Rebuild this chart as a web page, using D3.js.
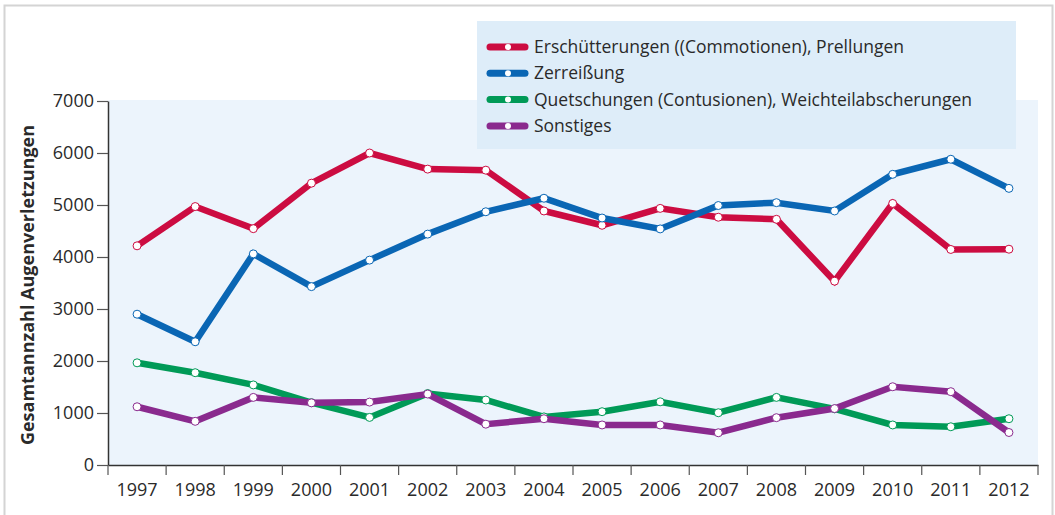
<!DOCTYPE html>
<html>
<head>
<meta charset="utf-8">
<script src="https://cdn.jsdelivr.net/npm/d3@7"></script>
<style>
  body { margin: 0; background: #fff; }
  svg { display: block; font-family: "Open Sans", "DejaVu Sans", sans-serif; }
</style>
</head>
<body>
<div class="chart"></div>
<script>
// --- data
var years = ['1997','1998','1999','2000','2001','2002','2003','2004',
             '2005','2006','2007','2008','2009','2010','2011','2012'];
var yTicks = [0, 1000, 2000, 3000, 4000, 5000, 6000, 7000];

var seriesNames = [
  'Erschütterungen ((Commotionen), Prellungen',
  'Zerreißung',
  'Quetschungen (Contusionen), Weichteilabscherungen',
  'Sonstiges'
];
var seriesColors = ['#cc0c41', '#0a66b4', '#009a57', '#8a2a8e'];

var erschuetterungen = [4215, 4970, 4545, 5420, 6000, 5690, 5670, 4885, 4610, 4935, 4765, 4725, 3535, 5030, 4145, 4150];
var zerreissung      = [2900, 2370, 4060, 3430, 3940, 4440, 4870, 5130, 4750, 4540, 4990, 5045, 4885, 5590, 5880, 5320];
var quetschungen     = [1965, 1775, 1540, 1200, 915, 1375, 1250, 925, 1025, 1215, 1005, 1300, 1080, 770, 735, 890];
var sonstiges        = [1120, 840, 1300, 1195, 1210, 1365, 785, 890, 770, 770, 620, 910, 1085, 1505, 1410, 625];

var allSeries = [erschuetterungen, zerreissung, quetschungen, sonstiges];

// --- canvas
var W = 1055, H = 515;
var svg = d3.select('.chart').append('svg')
  .attr('width', W)
  .attr('height', H);

// outer frame
svg.append('path')
  .attr('d', 'M4.5,515 L4.5,5.5 L1052.5,5.5 L1052.5,515')
  .attr('fill', 'none')
  .attr('stroke', '#d4d4d4')
  .attr('stroke-width', 2);

var plotLeft = 108, plotRight = 1038, plotTop = 101, plotBottom = 465;

var x = d3.scaleBand().domain(years).range([plotLeft, plotRight]);
var y = d3.scaleLinear().domain([0, 7000]).range([plotBottom, plotTop]);

// plot background
svg.append('rect')
  .attr('x', plotLeft).attr('y', plotTop - 1)
  .attr('width', plotRight - plotLeft).attr('height', plotBottom - plotTop + 1)
  .attr('fill', '#ecf4fc');

// legend box
svg.append('rect')
  .attr('x', 477).attr('y', 21)
  .attr('width', 539).attr('height', 128)
  .attr('fill', '#deedf9');

// y axis
var yAxis = svg.append('g')
  .attr('transform', 'translate(' + plotLeft + ',0)')
  .call(d3.axisLeft(y).tickValues(yTicks).tickFormat(d3.format('d'))
    .tickSize(11).tickPadding(3).tickSizeOuter(0));

// x axis: ticks at band edges, labels centred
var xAxis = svg.append('g')
  .attr('transform', 'translate(0,' + plotBottom + ')')
  .call(d3.axisBottom(x).tickSize(0).tickPadding(18).tickSizeOuter(0));

svg.append('g').selectAll('line')
  .data(years.concat(['end']))
  .enter().append('line')
  .attr('x1', function(d, i) { return i < years.length ? x(d) : plotRight; })
  .attr('x2', function(d, i) { return i < years.length ? x(d) : plotRight; })
  .attr('y1', plotBottom).attr('y2', plotBottom + 10)
  .attr('stroke', '#555').attr('stroke-width', 1.2);

[yAxis, xAxis].forEach(function(a) {
  a.select('.domain').attr('stroke', '#333').attr('stroke-width', 1.5);
  a.selectAll('.tick line').attr('stroke', '#555').attr('stroke-width', 1.2);
  a.selectAll('.tick text')
    .attr('font-family', '"Open Sans", sans-serif')
    .attr('font-size', 18)
    .attr('fill', '#2a2a2a');
});

// y axis title
svg.append('text')
  .attr('transform', 'translate(34,285) rotate(-90)')
  .attr('text-anchor', 'middle')
  .attr('font-weight', 'bold')
  .attr('font-size', 18)
  .attr('fill', '#2a2a2a')
  .text('Gesamtannzahl Augenverletzungen');

// --- lines
var line = d3.line()
  .x(function(d, i) { return x(years[i]) + x.bandwidth() / 2; })
  .y(function(d) { return y(d); });

allSeries.forEach(function(data, s) {
  var g = svg.append('g');
  g.append('path')
    .datum(data)
    .attr('d', line)
    .attr('fill', 'none')
    .attr('stroke', seriesColors[s])
    .attr('stroke-width', 6.5)
    .attr('stroke-linejoin', 'miter');
  g.selectAll('circle')
    .data(data)
    .enter().append('circle')
    .attr('cx', function(d, i) { return x(years[i]) + x.bandwidth() / 2; })
    .attr('cy', function(d) { return y(d); })
    .attr('r', 4)
    .attr('fill', '#fff')
    .attr('stroke', seriesColors[s])
    .attr('stroke-width', 1);
});

// --- legend
var legend = svg.append('g');
seriesNames.forEach(function(name, i) {
  var ly = 47 + i * 26.3;
  legend.append('line')
    .attr('x1', 490).attr('x2', 525)
    .attr('y1', ly).attr('y2', ly)
    .attr('stroke', seriesColors[i])
    .attr('stroke-width', 7)
    .attr('stroke-linecap', 'round');
  legend.append('circle')
    .attr('cx', 508).attr('cy', ly).attr('r', 3)
    .attr('fill', '#fff');
  legend.append('text')
    .attr('x', 534).attr('y', ly + 6)
    .attr('font-size', 17.5)
    .attr('fill', '#2a2a2a')
    .text(name);
});
</script>
</body>
</html>
